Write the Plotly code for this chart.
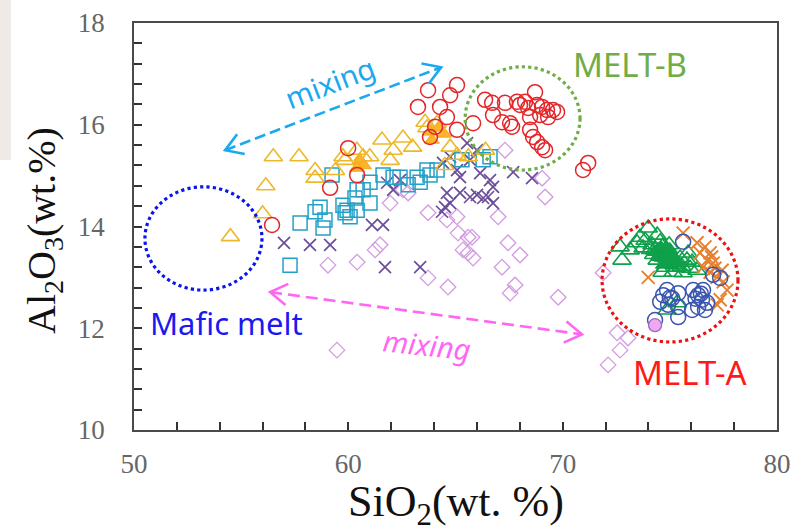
import math
import plotly.graph_objects as go

# ---------------- data (SiO2, Al2O3 wt.%) ----------------
red_x = [66.38, 66.71, 66.75, 67.17, 67.31, 67.55, 67.64, 67.87, 68.01, 68.25, 68.39, 68.48, 68.71, 68.80,
         68.95, 69.04, 69.27, 69.32, 69.55, 69.74, 68.48, 68.62, 68.81, 69.04, 69.18, 65.82, 70.95, 71.19,
         63.72, 65.07, 64.75, 63.25, 64.28, 64.60, 65.07, 64.05, 63.81, 59.99, 60.41, 59.15, 56.44]
red_y = [16.49, 16.43, 16.19, 16.05, 16.43, 16.03, 15.96, 16.45, 16.39, 16.45, 16.33, 16.15, 16.64, 16.39,
         16.19, 16.35, 16.29, 16.15, 16.29, 16.25, 15.90, 15.76, 15.66, 15.56, 15.50, 16.03, 15.11, 15.25,
         16.68, 16.78, 16.58, 16.35, 16.35, 16.15, 15.90, 15.96, 15.76, 15.54, 15.01, 14.76, 14.03]

yel_x = [54.50, 56.00, 56.15, 56.50, 57.70, 58.45, 58.45, 59.75, 60.40, 61.57, 62.55, 63.00, 63.58, 63.67,
         64.14, 64.75, 61.00, 62.09, 65.07, 61.95, 60.69, 65.60, 66.40, 64.50, 59.40, 59.85]
yel_y = [13.80, 14.25, 14.80, 15.37, 15.37, 15.10, 14.95, 15.37, 15.50, 15.70, 15.74, 15.56, 16.05, 15.94,
         16.03, 15.56, 15.37, 15.50, 15.40, 15.30, 15.37, 15.37, 15.50, 15.20, 15.10, 15.30]

org_fill_x = [60.55, 60.73, 60.40, 63.80, 64.20, 64.47, 63.90]
org_fill_y = [15.30, 15.20, 15.15, 15.86, 15.94, 15.82, 15.70]

sq_x = [57.28, 57.75, 58.45, 58.68, 58.82, 58.91, 59.24, 59.75, 59.94, 60.08, 59.85, 60.31, 60.41, 60.41,
        60.69, 61.01, 61.01, 61.62, 62.09, 62.41, 62.79, 63.21, 63.35, 63.81, 64.14, 63.67, 66.29, 66.61, 65.30]
sq_y = [13.24, 14.07, 14.29, 14.38, 13.97, 14.13, 15.01, 14.42, 14.32, 14.19, 14.27, 14.56, 14.32, 14.72,
        14.72, 14.87, 14.46, 15.01, 14.97, 14.97, 14.82, 14.97, 14.87, 15.01, 15.11, 15.11, 15.31, 15.37, 15.31]

px_x = [57.00, 58.21, 59.15, 61.71, 63.35, 61.10, 61.62, 62.09, 61.81, 64.60, 65.21, 65.68, 66.00, 66.29,
        64.51, 64.75, 64.37, 65.21, 66.15, 65.54, 66.00, 64.75, 65.68, 65.07, 64.42, 66.75, 66.52, 66.75,
        67.69, 68.57, 66.61, 62.41]
px_y = [13.68, 13.64, 13.64, 13.20, 13.20, 14.03, 14.03, 14.72, 14.86, 14.66, 14.66, 14.58, 14.62, 14.56,
        14.38, 14.46, 14.29, 14.97, 15.05, 15.64, 15.50, 15.37, 15.31, 15.11, 15.25, 14.78, 14.58, 14.46,
        15.07, 14.95, 14.91, 14.91]

dia_x = [59.47, 59.05, 60.41, 61.25, 61.48, 61.95, 62.55, 62.79, 63.72, 64.60, 65.07, 65.12, 65.59, 65.35,
         65.59, 65.82, 63.72, 64.65, 66.99, 65.77, 67.45, 68.01, 67.17, 67.78, 67.55, 69.79, 69.04, 69.18,
         67.31, 71.89, 72.54, 73.05, 72.68, 72.12]
dia_y = [11.57, 13.24, 13.30, 13.54, 13.64, 14.46, 14.72, 14.66, 14.27, 14.13, 14.19, 13.87, 13.79, 13.54,
         13.48, 13.38, 12.99, 12.81, 14.19, 13.79, 13.68, 13.44, 13.20, 12.85, 12.69, 12.61, 14.95, 14.58,
         15.50, 13.09, 11.91, 11.81, 11.57, 11.28]

pinkc_x = [74.31]
pinkc_y = [12.06]

grn_x = [72.68, 72.77, 73.15, 73.47, 73.61, 73.99, 73.75, 74.41, 74.17, 74.55, 74.87, 74.69, 74.97, 75.01,
         75.34, 75.80, 75.94, 76.27, 75.62, 74.41, 74.78, 75.15, 74.64, 75.85, 74.87, 75.34, 74.30, 74.97,
         75.48, 73.85, 74.55, 75.20, 76.04, 74.10, 74.25, 74.65, 74.85, 75.05, 75.25, 75.55, 74.45, 74.95]
grn_y = [13.60, 13.34, 13.54, 13.68, 13.79, 13.97, 13.58, 13.83, 13.64, 13.70, 13.54, 13.40, 13.48, 13.28,
         13.20, 13.34, 13.18, 13.14, 13.09, 13.34, 13.20, 13.10, 13.10, 13.48, 12.36, 12.50, 13.54, 13.64,
         13.38, 13.73, 13.44, 13.30, 13.30, 13.55, 13.45, 13.60, 13.38, 13.42, 13.25, 13.22, 13.52, 13.36]

grn_fill_x = [74.35, 74.60, 74.80, 75.00, 75.20, 74.50, 74.90, 75.40, 75.10, 74.70]
grn_fill_y = [13.50, 13.58, 13.45, 13.55, 13.35, 13.40, 13.30, 13.28, 13.45, 13.25]

ox_x = [75.62, 76.27, 76.41, 76.74, 76.55, 76.88, 77.21, 77.49, 77.67, 77.21, 73.99, 76.88, 77.02, 77.44,
        76.64, 77.35, 76.95, 77.10]
ox_y = [13.87, 13.68, 13.48, 13.34, 13.20, 13.10, 13.00, 12.91, 12.75, 12.46, 13.00, 13.48, 13.28, 13.14,
        13.60, 12.56, 13.40, 13.18]

blu_x = [75.62, 74.87, 74.69, 75.11, 75.39, 74.55, 74.92, 75.39, 75.39, 74.31, 76.09, 76.32, 76.55, 76.50,
         76.74, 76.32, 76.64, 77.02, 77.35, 76.04, 75.00, 76.20, 76.45]
blu_y = [13.70, 12.75, 12.65, 12.59, 12.69, 12.52, 12.46, 12.42, 12.22, 12.16, 12.75, 12.65, 12.75, 12.56,
         12.50, 12.42, 12.36, 13.05, 12.99, 12.36, 12.60, 12.58, 12.68]

# annotation geometry (data units)
mix1_start = (54.25, 15.50)
mix1_end = (64.33, 17.13)
mix2_start = (56.35, 12.71)
mix2_end = (70.90, 11.88)

mafic_circle = (50.51, 12.75, 55.97, 14.78)
meltb_circle = (65.45, 15.11, 70.81, 17.14)
melta_circle = (71.84, 11.73, 78.18, 14.15)

X_RANGE = [50, 80]
Y_RANGE = [10, 18]

# ---------------- figure ----------------
W, H = 794, 532
ML, MR, MT, MB = 134, 17, 23, 102
PW, PH = W - ML - MR, H - MT - MB
SX = PW / (X_RANGE[1] - X_RANGE[0])
SY = PH / (Y_RANGE[1] - Y_RANGE[0])

fig = go.Figure()


def add_pts(x, y, symbol, color, size=13, lw=1.4, fill=None):
    mk = dict(symbol=symbol, size=size, color=fill if fill else color,
              line=dict(color=color, width=lw))
    fig.add_trace(go.Scatter(x=x, y=y, mode="markers", marker=mk, hoverinfo="skip", showlegend=False))


add_pts(dia_x, dia_y, "diamond-open", "#D39BE2", size=12, lw=1.3)
add_pts(px_x, px_y, "x-thin-open", "#6B4E9B", size=12, lw=1.7)
add_pts(sq_x, sq_y, "square-open", "#22A0C8", size=14, lw=1.5)
add_pts(yel_x, yel_y, "triangle-up-open", "#EDB92A", size=16, lw=1.6)
add_pts(org_fill_x, org_fill_y, "triangle-up", "#F7A81B", size=13, lw=1.0, fill="#FBB52A")
add_pts(red_x, red_y, "circle-open", "#E3262A", size=15, lw=1.5)
add_pts(grn_x, grn_y, "triangle-up-open", "#0EA04A", size=16, lw=1.6)
add_pts(grn_fill_x, grn_fill_y, "triangle-up", "#0EA04A", size=14, lw=1.0)
add_pts(ox_x, ox_y, "x-thin-open", "#E8802E", size=13, lw=1.9)
add_pts(blu_x, blu_y, "circle-open", "#3A55B0", size=15, lw=1.5)
add_pts(pinkc_x, pinkc_y, "circle", "#9A6AC0", size=13, lw=1.3, fill="#F0A8F0")


def arrow(start, end, color, dash):
    fig.add_trace(go.Scatter(x=[start[0], end[0]], y=[start[1], end[1]], mode="lines",
                             line=dict(color=color, width=2.6, dash=dash),
                             hoverinfo="skip", showlegend=False))
    for tip, other in ((start, end), (end, start)):
        dx = (other[0] - tip[0]) * SX
        dy = (other[1] - tip[1]) * SY
        n = math.hypot(dx, dy)
        ux, uy = dx / n, dy / n
        L = 20
        xs, ys = [], []
        for a in (math.radians(32), None, math.radians(-32)):
            if a is None:
                xs.append(tip[0]); ys.append(tip[1]); continue
            rx = ux * math.cos(a) - uy * math.sin(a)
            ry = ux * math.sin(a) + uy * math.cos(a)
            xs.append(tip[0] + rx * L / SX)
            ys.append(tip[1] + ry * L / SY)
        fig.add_trace(go.Scatter(x=xs, y=ys, mode="lines", line=dict(color=color, width=2.6),
                                 hoverinfo="skip", showlegend=False))


arrow(mix1_start, mix1_end, "#1AA9EE", "11px,5px")
arrow(mix2_start, mix2_end, "#FF66F2", "12px,6px")

for (x0, y0, x1, y1), col in ((mafic_circle, "#0A14F0"), (meltb_circle, "#6DAE45"), (melta_circle, "#F01010")):
    fig.add_shape(type="circle", xref="x", yref="y", x0=x0, y0=y0, x1=x1, y1=y1,
                  line=dict(color=col, width=3.2, dash="dot"), layer="above")

# faint background strip at top-left of the picture
fig.add_shape(type="rect", xref="paper", yref="paper",
              x0=-ML / PW, x1=(11 - ML) / PW, y0=(PH + MT - 160) / PH, y1=(PH + MT) / PH,
              fillcolor="#EEEBE6", line=dict(width=0), layer="below")


def px2paper(px, py):
    return (px - ML) / PW, (MT + PH - py) / PH


sans = "Noto Sans"
texts = [
    ("MELT-B", 630, 64, "#70AD47", 33, 0),
    ("MELT-A", 690, 372, "#FF1A1A", 33, 0),
    ("Mafic melt", 226, 323, "#1A1AF0", 31, 0),
    ("mixing", 329, 82, "#1AA9EE", 29, -21),
    ("<i>mixing</i>", 427, 344, "#FF66F2", 29, 6),
]
for t, px, py, col, sz, ang in texts:
    xp, yp = px2paper(px, py)
    fig.add_annotation(text=t, x=xp, y=yp, xref="paper", yref="paper", showarrow=False,
                       xanchor="center", yanchor="middle", textangle=ang,
                       font=dict(family=sans, size=sz, color=col))

serif = "Liberation Serif"
xp, yp = px2paper(456, 504)
fig.add_annotation(text="SiO<sub>2</sub>(wt. %)", x=xp, y=yp, xref="paper", yref="paper",
                   showarrow=False, xanchor="center", yanchor="middle",
                   font=dict(family=serif, size=44, color="#111111"))
xp, yp = px2paper(44, 231)
fig.add_annotation(text="Al<sub>2</sub>O<sub>3</sub>(wt.%)", x=xp, y=yp, xref="paper", yref="paper",
                   showarrow=False, xanchor="center", yanchor="middle", textangle=-90,
                   font=dict(family=serif, size=40, color="#111111"))

axis_common = dict(
    showgrid=False, zeroline=False, showline=True, linecolor="#4A4A4A", linewidth=1.6, mirror=True,
    ticks="inside", ticklen=8, tickwidth=1.5, tickcolor="#333333", automargin=False,
    tickfont=dict(family=serif, size=27, color="#666666"),
)
fig.update_xaxes(range=X_RANGE, tick0=50, dtick=10, ticklabelstandoff=9,
                 minor=dict(dtick=2, ticks="inside", ticklen=8, tickwidth=1.5, tickcolor="#333333", showgrid=False),
                 **axis_common)
fig.update_yaxes(range=Y_RANGE, tick0=10, dtick=2, ticklabelstandoff=22,
                 minor=dict(dtick=0.4, ticks="inside", ticklen=8, tickwidth=1.5, tickcolor="#333333", showgrid=False),
                 **axis_common)

fig.update_layout(width=W, height=H, autosize=False,
                  margin=dict(l=ML, r=MR, t=MT, b=MB, autoexpand=False),
                  paper_bgcolor="white", plot_bgcolor="white", showlegend=False)

fig.write_html("out.html", config={"displayModeBar": False},
               post_script="document.body.style.margin='0';document.body.style.padding='0';")
